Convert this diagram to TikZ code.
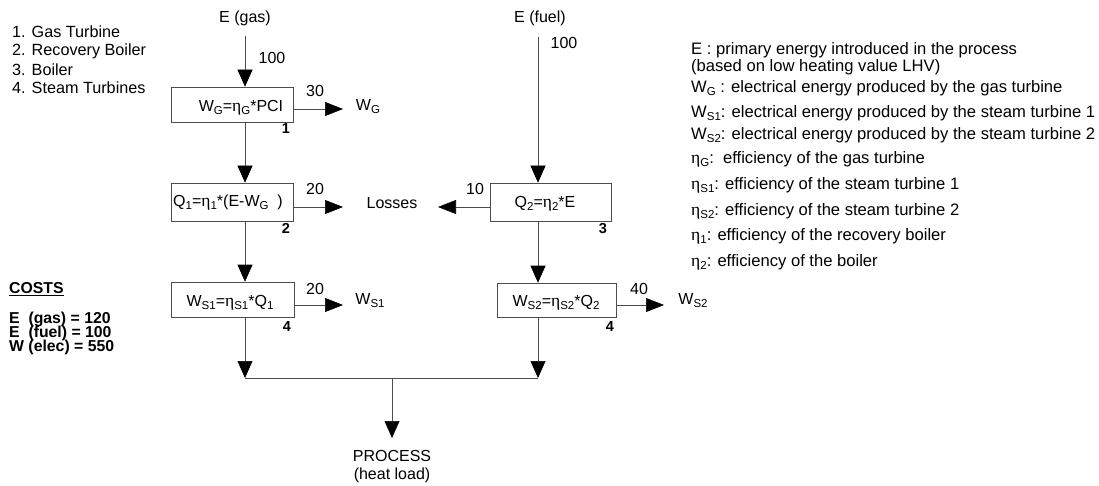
\documentclass[tikz,border=0pt]{standalone}
\usepackage{fontspec}
\setmainfont{Liberation Sans}
\newfontfamily\grkfont{Liberation Serif}
\usetikzlibrary{arrows.meta,calc}
\newcommand\myeta{{\grkfont\fontsize{17.5}{18}\selectfont η}}
\newcommand\sbs[1]{\raisebox{-0.35ex}{\fontsize{11.5}{12}\selectfont #1}}
\tikzset{
  ln/.style={draw=black!70,line width=0.6pt},
  arr/.style={ln,-{Triangle[length=17pt,width=15pt,color=black]}},
  harr/.style={ln,-{Triangle[length=18pt,width=14pt,color=black]}},
  box/.style={ln,rectangle,inner sep=0pt},
  txt/.style={inner sep=0pt,font=\fontsize{16}{17}\selectfont},
  leg/.style={inner sep=0pt,anchor=west,font=\fontsize{16.6}{17}\selectfont},
  lst/.style={inner sep=0pt,anchor=west,font=\fontsize{16.2}{17}\selectfont},
  num/.style={inner sep=0pt,font=\fontsize{14.5}{16}\selectfont\bfseries},
  cost/.style={inner sep=0pt,anchor=west,font=\fontsize{15.8}{16}\selectfont\bfseries},
}
\begin{document}
\begin{tikzpicture}[x=1pt,y=-1pt]
\useasboundingbox (0,0) rectangle (1099,486);
% left list
\node[lst] (l1) at (12,32) {1. Gas Turbine};
\node[lst] (l2) at (12,51) {2. Recovery Boiler};
\node[lst] (l3) at (12,70) {3. Boiler};
\node[lst] (l4) at (12,88) {4. Steam Turbines};
% costs
\node[cost] (c0) at (9,289) {\underline{COSTS}};
\node[cost] (c1) at (9,319) {E\ \ (gas) = 120};
\node[cost] (c2) at (9,333) {E\ \ (fuel) = 100};
\node[cost] (c3) at (9,347) {W (elec) = 550};
% boxes
\node[box,minimum width=122pt,minimum height=35pt] (b1) at (232.5,104.5) {};
\node[box,minimum width=122pt,minimum height=38pt] (b2) at (232.5,202) {};
\node[box,minimum width=121pt,minimum height=38pt] (b3) at (550.5,202) {};
\node[box,minimum width=123pt,minimum height=35pt] (b4l) at (232.5,299.5) {};
\node[box,minimum width=119pt,minimum height=34pt] (b4r) at (556.5,300) {};
\node[txt] (t1) at (241,108) {W\sbs{G}=\myeta\sbs{G}*PCI};
\node[txt] (t2) at (228,203) {Q\sbs{1}=\myeta\sbs{1}*(E-W\sbs{G}\ \ )};
\node[txt] (t3) at (545,204) {Q\sbs{2}=\myeta\sbs{2}*E};
\node[txt] (t4) at (230,303) {W\sbs{S1}=\myeta\sbs{S1}*Q\sbs{1}};
\node[txt] (t5) at (556,303) {W\sbs{S2}=\myeta\sbs{S2}*Q\sbs{2}};
\node[num] (n1) at (286,129) {1};
\node[num] (n2) at (286,228) {2};
\node[num] (n3) at (603,229) {3};
\node[num] (n4) at (287,327) {4};
\node[num] (n5) at (610,327) {4};
% inputs
\node[txt] (eg) at (245,18) {E (gas)};
\node[txt] (ef) at (540,18) {E (fuel)};
\coordinate (xl) at (245,0);
\coordinate (xr) at (538,0);
\coordinate (egs) at (245,36);
\coordinate (efs) at (538,37);
\draw[arr] (egs) -- (b1.north -| xl);
\draw[arr] (efs) -- (b3.north -| xr);
\node[txt] (v1) at (272,58) {100};
\node[txt] (v2) at (564,43) {100};
% vertical flows
\draw[arr] (b1.south -| xl) -- (b2.north -| xl);
\draw[arr] (b2.south -| xl) -- (b4l.north -| xl);
\draw[arr] (b3.south -| xr) -- (b4r.north -| xr);
% outputs
\node[txt] (wg) at (368,107) {W\sbs{G}};
\node[txt] (ls) at (392,203) {Losses};
\node[txt] (ws1) at (370,301) {W\sbs{S1}};
\node[txt] (ws2) at (693,301) {W\sbs{S2}};
\coordinate (wgt) at (343,109);
\coordinate (l1t) at (343,207);
\coordinate (l2t) at (438,207);
\coordinate (w1t) at (343,305);
\coordinate (w2t) at (664,305);
\draw[harr] (b1.east |- wgt) -- (wgt);
\draw[harr] (b2.east |- l1t) -- (l1t);
\draw[harr] (b3.west |- l2t) -- (l2t);
\draw[harr] (b4l.east |- w1t) -- (w1t);
\draw[harr] (b4r.east |- w2t) -- (w2t);
\node[txt] (v3) at (315,91) {30};
\node[txt] (v4) at (315,189) {20};
\node[txt] (v5) at (475,189) {10};
\node[txt] (v6) at (315,289) {20};
\node[txt] (v7) at (639,289) {40};
% collector
\coordinate (cl) at (245,378);
\coordinate (cr) at (538,378);
\coordinate (j) at (392,378);
\draw[arr] (b4l.south -| xl) -- (cl);
\draw[arr] (b4r.south -| xr) -- (cr);
\draw[ln] (cl) -- (cr);
\node[txt,align=center] (proc) at (392,467) {PROCESS\\[1pt](heat load)};
\draw[arr] (j) -- (392,438);
% right legend
\node[leg] (r1) at (691,50) {E : primary energy introduced in the process};
\node[leg] (r2) at (691,67) {(based on low heating value LHV)};
\node[leg] (r3) at (691,88) {W\sbs{G} : electrical energy produced by the gas turbine};
\node[leg] (r4) at (691,113) {W\sbs{S1}: electrical energy produced by the steam turbine 1};
\node[leg] (r5) at (691,135) {W\sbs{S2}: electrical energy produced by the steam turbine 2};
\node[leg] (r6) at (691,159) {\myeta\sbs{G}:\ \ efficiency of the gas turbine};
\node[leg] (r7) at (691,185) {\myeta\sbs{S1}: efficiency of the steam turbine 1};
\node[leg] (r8) at (691,211) {\myeta\sbs{S2}: efficiency of the steam turbine 2};
\node[leg] (r9) at (691,236) {\myeta\sbs{1}: efficiency of the recovery boiler};
\node[leg] (r10) at (691,262) {\myeta\sbs{2}: efficiency of the boiler};
\end{tikzpicture}
\end{document}
